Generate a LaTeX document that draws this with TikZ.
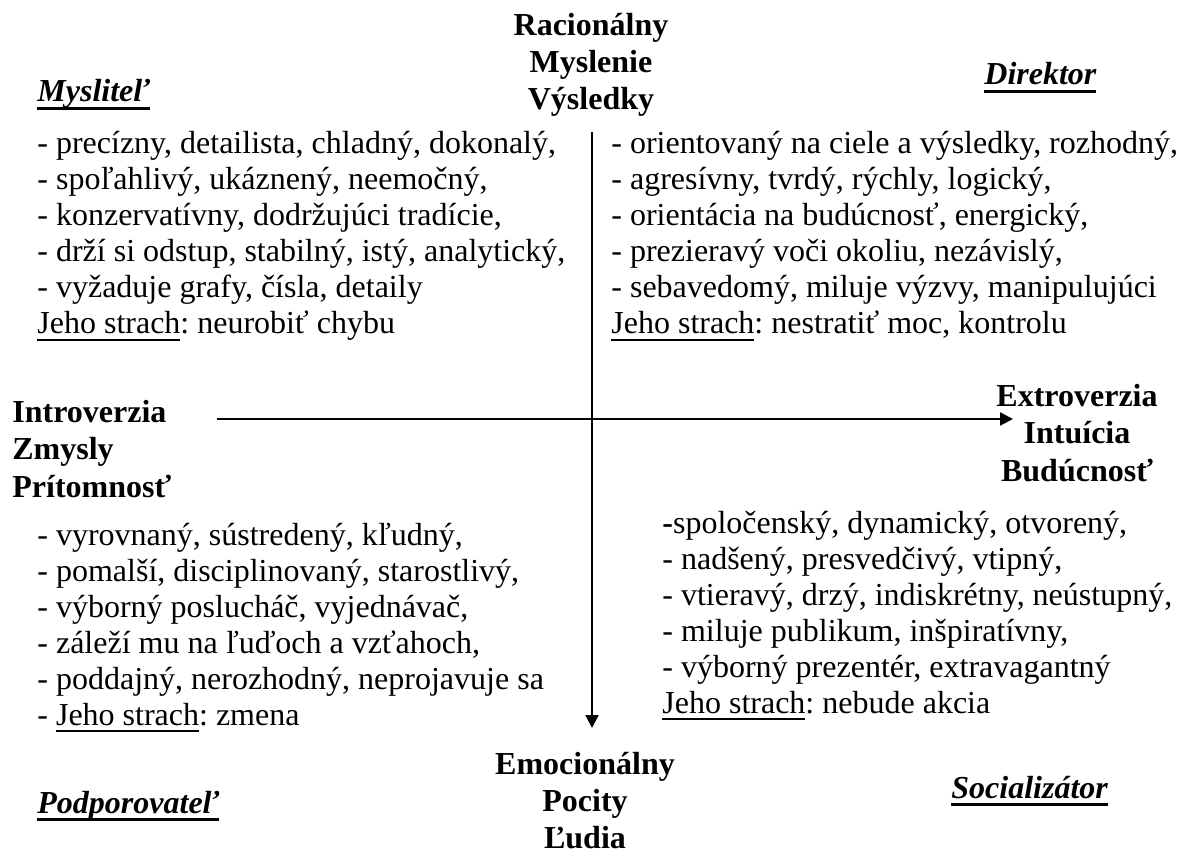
\documentclass[tikz,border=0pt]{standalone}
\usepackage{fontspec}
\setmainfont{Liberation Serif}
\usepackage{tikz}
\usetikzlibrary{arrows.meta}
\frenchspacing

% underline with a rule of given thickness
\newcommand{\ulbar}[3]{\setbox0\hbox{#3}\rlap{\rule[-#1]{\wd0}{#2}}\box0}

\tikzset{
  head/.style = {font=\fontsize{16}{18.5}\selectfont\bfseries, inner sep=0, align=center},
  headl/.style = {font=\fontsize{16}{18.5}\selectfont\bfseries, inner sep=0, align=left},
  ttl/.style = {font=\fontsize{16}{18}\selectfont\bfseries\itshape, inner sep=0},
  lst/.style = {font=\fontsize{16}{18}\selectfont, inner sep=0, align=left},
  axis/.style = {line width=1.1pt, -{Triangle[length=6.5pt,width=6.5pt]}}
}

\begin{document}
\begin{tikzpicture}[x=0.5pt, y=-0.5pt]
	\useasboundingbox (0,0) rectangle (1181,854);

	% axis labels (anchored at the last line)
	\node [head, anchor=base] (rac) at (591, 110) {Racionálny\\Myslenie\\Výsledky};
	\node [head, anchor=base] (emo) at (585, 848) {Emocionálny\\Pocity\\Ľudia};
	\node [headl, anchor=base west] (intro) at (12, 497) {Introverzia\\Zmysly\\Prítomnosť};
	\node [head, anchor=base] (extro) at (1077, 481) {Extroverzia\\Intuícia\\Budúcnosť};

	% types
	\node [ttl, anchor=base west] (myslitel) at (37, 102) {\ulbar{4pt}{1.5pt}{Mysliteľ}};
	\node [ttl, anchor=base west] (direktor) at (984, 85) {\ulbar{4pt}{1.5pt}{Direktor}};
	\node [ttl, anchor=base west] (podpor) at (37, 813) {\ulbar{4pt}{1.5pt}{Podporovateľ}};
	\node [ttl, anchor=base west] (social) at (951, 798) {\ulbar{4pt}{1.5pt}{Socializátor}};

	% axes
	\coordinate (vtop) at (592, 132);
	\coordinate (vbot) at (592, 728);
	\coordinate (hleft) at (217, 419);
	\coordinate (hright) at (1013, 419);
	\draw [axis] (vtop) -- (vbot);
	\draw [axis] (hleft) -- (hright);

	% lists
	\node [lst, anchor=base west] (lmysl) at (37, 334) {- precízny, detailista, chladný, dokonalý,\\
		- spoľahlivý, ukáznený, neemočný,\\
		- konzervatívny, dodržujúci tradície,\\
		- drží si odstup, stabilný, istý, analytický,\\
		- vyžaduje grafy, čísla, detaily\\
		\ulbar{3.5pt}{0.9pt}{Jeho strach}: neurobiť chybu};
	\node [lst, anchor=base west] (ldir) at (611, 334) {- orientovaný na ciele a výsledky, rozhodný,\\
		- agresívny, tvrdý, rýchly, logický,\\
		- orientácia na budúcnosť, energický,\\
		- prezieravý voči okoliu, nezávislý,\\
		- sebavedomý, miluje výzvy, manipulujúci\\
		\ulbar{3.5pt}{0.9pt}{Jeho strach}: nestratiť moc, kontrolu};
	\node [lst, anchor=base west] (lpod) at (37, 725) {- vyrovnaný, sústredený, kľudný,\\
		- pomalší, disciplinovaný, starostlivý,\\
		- výborný poslucháč, vyjednávač,\\
		- záleží mu na ľuďoch a vzťahoch,\\
		- poddajný, nerozhodný, neprojavuje sa\\
		- \ulbar{3.5pt}{0.9pt}{Jeho strach}: zmena};
	\node [lst, anchor=base west] (lsoc) at (662, 713) {{\bfseries -}spoločenský, dynamický, otvorený,\\
		- nadšený, presvedčivý, vtipný,\\
		- vtieravý, drzý, indiskrétny, neústupný,\\
		- miluje publikum, inšpiratívny,\\
		- výborný prezentér, extravagantný\\
		\ulbar{3.5pt}{0.9pt}{Jeho strach}: nebude akcia};
\end{tikzpicture}
\end{document}
